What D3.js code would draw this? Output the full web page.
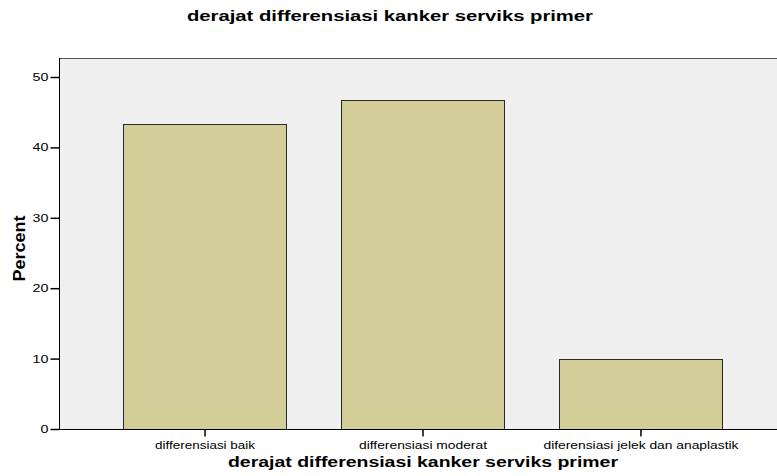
<!DOCTYPE html>
<html>
<head>
<meta charset="utf-8">
<script src="https://cdn.jsdelivr.net/npm/d3@7"></script>
<style>
  body { margin: 0; background: #fff; }
  svg text { font-family: Arial, "Liberation Sans", sans-serif; fill: #000; }
</style>
</head>
<body>
<div id="chart"></div>
<script>
var categories = ["differensiasi baik", "differensiasi moderat", "diferensiasi jelek dan anaplastik"];
var percents = [43.33, 46.67, 10.0];
var yTicks = [0, 10, 20, 30, 40, 50];

var width = 777,
  height = 476;

var plot = { left: 59, top: 58, bottom: 429, right: 787 };
// the reference text is drawn wider than the font, so widths are forced
var labelWidths = [100, 128, 195];

var svg = d3.select("#chart")
  .append("svg")
  .attr("width", width)
  .attr("height", height);

var x = d3.scaleBand()
  .domain(categories)
  .range([plot.left, plot.right])
  .paddingInner(0.25)
  .paddingOuter(0.295);

var y = d3.scaleLinear()
  .domain([0, 50])
  .range([plot.bottom, plot.bottom - 5 * 70.4]);

function stretch(sel, k) {
  sel.each(function() {
    var w = this.getComputedTextLength();
    d3.select(this).attr("textLength", w * k).attr("lengthAdjust", "spacingAndGlyphs");
  });
}

// plot background
svg.append("rect")
  .attr("x", plot.left)
  .attr("y", plot.top)
  .attr("width", width - plot.left)
  .attr("height", plot.bottom - plot.top)
  .attr("fill", "#f0f0f0");

svg.append("line")
  .attr("x1", plot.left).attr("x2", width)
  .attr("y1", plot.top + 0.5).attr("y2", plot.top + 0.5)
  .attr("stroke", "#555");

// bars
svg.selectAll(".bar")
  .data(percents)
  .enter().append("rect")
  .attr("class", "bar")
  .attr("x", function(d, i) { return Math.round(x(categories[i])) + 0.5 })
  .attr("y", function(d) { return Math.round(y(d)) + 0.5 })
  .attr("width", Math.round(x.bandwidth()))
  .attr("height", function(d) { return Math.round(y(0)) - Math.round(y(d)) })
  .attr("fill", "#d3ce97")
  .attr("stroke", "#2a2a2a")
  .attr("stroke-width", 1);

// y axis
var yAxis = svg.append("g")
  .attr("transform", "translate(" + (plot.left + 0.5) + ",0)")
  .call(d3.axisLeft(y).tickValues(yTicks).tickSize(9).tickPadding(2).tickFormat(d3.format("d")));
yAxis.select(".domain").attr("stroke", "#000").attr("d", "M0," + plot.top + "V" + (plot.bottom + 0.5));
yAxis.selectAll(".tick line").attr("stroke", "#000").attr("stroke-width", 1.5);
yAxis.selectAll("text").style("font-size", "11px").attr("fill", "#000").call(stretch, 1.3);

// x axis
var xAxis = svg.append("g")
  .attr("transform", "translate(0," + (plot.bottom + 0.5) + ")")
  .call(d3.axisBottom(x).tickSize(7).tickPadding(5));
xAxis.select(".domain").attr("stroke", "#000").attr("d", "M" + plot.left + ",0H" + width);
xAxis.selectAll(".tick line").attr("stroke", "#000").attr("stroke-width", 1.5);
xAxis.selectAll("text")
  .style("font-size", "10px")
  .attr("fill", "#000")
  .attr("textLength", function(d, i) { return labelWidths[i] })
  .attr("lengthAdjust", "spacingAndGlyphs");

// titles
svg.append("text")
  .attr("x", 390)
  .attr("y", 21)
  .attr("text-anchor", "middle")
  .attr("textLength", 406)
  .attr("lengthAdjust", "spacingAndGlyphs")
  .style("font-size", "14px")
  .style("font-weight", "bold")
  .text("derajat differensiasi kanker serviks primer");

svg.append("text")
  .attr("x", 423)
  .attr("y", 467)
  .attr("text-anchor", "middle")
  .attr("textLength", 390)
  .attr("lengthAdjust", "spacingAndGlyphs")
  .style("font-size", "14px")
  .style("font-weight", "bold")
  .text("derajat differensiasi kanker serviks primer");

svg.append("text")
  .attr("transform", "translate(25,248.5) rotate(-90)")
  .attr("text-anchor", "middle")
  .attr("textLength", 66)
  .attr("lengthAdjust", "spacingAndGlyphs")
  .style("font-size", "16px")
  .style("font-weight", "bold")
  .text("Percent");
</script>
</body>
</html>
